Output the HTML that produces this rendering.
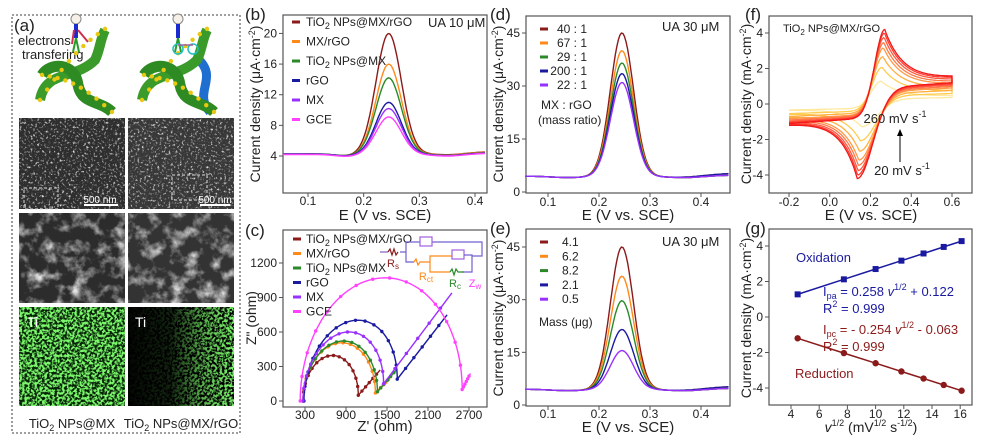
<!DOCTYPE html>
<html><head><meta charset="utf-8"><style>
html,body{margin:0;padding:0;background:#fff}
svg{display:block}
text{font-family:"Liberation Sans",Arial,sans-serif;fill:#222}
</style></head><body>
<div id="wrap"></div>
<script>
var S=[];
function A(s){S.push(s);}
function T(x,y,t,sz,anc,col){A('<text x="'+x+'" y="'+y+'" font-size="'+sz+'" text-anchor="'+(anc||'start')+'"'+(col?' style="fill:'+col+'"':'')+'>'+t+'</text>');}
function POLY(pts,col,w){var s=[];for(var i=0;i<pts.length;i++){s.push(pts[i][0].toFixed(1)+','+pts[i][1].toFixed(1));}A('<polyline fill="none" stroke="'+col+'" stroke-width="'+(w||1.3)+'" points="'+s.join(' ')+'"/>');}
function BOX(x0,y0,x1,y1){A('<rect x="'+x0+'" y="'+y0+'" width="'+(x1-x0)+'" height="'+(y1-y0)+'" fill="none" stroke="#555" stroke-width="1.2"/>');}
function AXES(o){
 BOX(o.x0,o.y0,o.x1,o.y1);
 var i,v,p;
 for(i=0;i<o.xt.length;i++){v=o.xt[i];p=o.fx(v);A('<line x1="'+p+'" y1="'+o.y1+'" x2="'+p+'" y2="'+(o.y1+4)+'" stroke="#555"/>');T(p,o.y1+(o.xo||12),o.xl?o.xl(v):v,12,'middle');}
 for(i=0;i<o.yt.length;i++){v=o.yt[i];p=o.fy(v);A('<line x1="'+(o.x0-4)+'" y1="'+p+'" x2="'+o.x0+'" y2="'+p+'" stroke="#555"/>');T(o.x0-6,p+4,v,12,'end');}
}
function GAUSS(x,c,s){var z=(x-c)/s;return Math.exp(-z*z);}
function YL(x,y,t){A('<text x="'+x+'" y="'+y+'" font-size="14" text-anchor="middle" transform="rotate(-90 '+x+' '+y+')">'+t+'</text>');}
function SUB(t){return '<tspan font-size="9" dy="3">'+t+'</tspan><tspan dy="-3">';}
var BR='#8b1a1a',OR='#ff8a1a',GR='#2a8a2a',NV='#1a1aa0',VI='#9a30ff',MG='#ff40ff';
var UA='Current density (μA·cm<tspan font-size="9" dy="-5">-2</tspan><tspan dy="5">)</tspan>';
var MA='Current density (mA·cm<tspan font-size="9" dy="-5">-2</tspan><tspan dy="5">)</tspan>';
function DPV(o,peaks,cols,base){
 for(var i=0;i<peaks.length;i++){var pts=[];for(var x=o.xa;x<=o.xb+1e-9;x+=0.003){var b0=base(x,i);pts.push([o.fx(x),o.fy(b0+(peaks[i]-b0)*GAUSS(x,0.245,0.032))]);}POLY(pts,cols[i],1.4);}
}
A('<svg width="987" height="443" viewBox="0 0 987 443" xmlns="http://www.w3.org/2000/svg"><defs>'+
'<filter id="sem" x="0" y="0" width="100%" height="100%"><feTurbulence type="fractalNoise" baseFrequency="0.45" numOctaves="3" seed="3"/><feColorMatrix type="matrix" values="0 0 0 0 1  0 0 0 0 1  0 0 0 0 1  3 0 0 0 -1.65"/></filter>'+
'<filter id="sem2" x="0" y="0" width="100%" height="100%"><feTurbulence type="fractalNoise" baseFrequency="0.07" numOctaves="4" seed="7"/><feColorMatrix type="matrix" values="0 0 0 0 1  0 0 0 0 1  0 0 0 0 1  2.2 0 0 0 -1.0"/></filter>'+
'<filter id="grn" x="0" y="0" width="100%" height="100%"><feTurbulence type="fractalNoise" baseFrequency="0.4" numOctaves="2" seed="2"/><feColorMatrix type="matrix" values="0 0 0 0 0.2  0 0 0 0 0.95  0 0 0 0 0.15  5 0 0 0 -2.0"/></filter>'+
'<linearGradient id="fade" x1="0" x2="1"><stop offset="0" stop-color="#000" stop-opacity="0.97"/><stop offset="0.4" stop-color="#000" stop-opacity="0.85"/><stop offset="0.7" stop-color="#000" stop-opacity="0.3"/><stop offset="1" stop-color="#000" stop-opacity="0"/></linearGradient></defs>');

// ===== panel a =====
try{
A('<rect x="12" y="15" width="228" height="418" fill="none" stroke="#666" stroke-width="1.3" stroke-dasharray="2,2"/>');
T(14,31,'(a)',17);
T(18,45,'electrons',13);T(22,59,'transfering',13);
function RIB(dx,blue){
 if(blue)A('<path d="M'+(dx+95)+' 58 C'+(dx+118)+' 78 '+(dx+90)+' 92 '+(dx+108)+' 112" stroke="#1f6fd0" stroke-width="9" fill="none"/>');
 A('<path d="M'+(dx+40)+' 100 C'+(dx+45)+' 70 '+(dx+75)+' 80 '+(dx+95)+' 60 C'+(dx+100)+' 50 '+(dx+100)+' 40 '+(dx+105)+' 30" stroke="#3a9a2a" stroke-width="10" fill="none"/>');
 A('<path d="M'+(dx+42)+' 75 C'+(dx+50)+' 62 '+(dx+75)+' 62 '+(dx+78)+' 85 C'+(dx+82)+' 105 '+(dx+100)+' 100 '+(dx+112)+' 112" stroke="#2e8a22" stroke-width="11" fill="none"/>');
 for(var i=0;i<10;i++){var t=i/9;A('<circle cx="'+(dx+40+t*65)+'" cy="'+(100-t*70+Math.sin(t*3)*-8)+'" r="2.2" fill="#e8c810"/>');A('<circle cx="'+(dx+42+t*70)+'" cy="'+(75+t*37-Math.sin(t*3.14)*8)+'" r="2.2" fill="#e8c810"/>');}
}
RIB(0,false);RIB(102,true);
function FIG(x){A('<circle cx="'+x+'" cy="19" r="5" fill="#f6f0e8" stroke="#888"/><line x1="'+x+'" y1="24" x2="'+x+'" y2="38" stroke="#1a2ad0" stroke-width="4"/><line x1="'+x+'" y1="38" x2="'+(x-3)+'" y2="52" stroke="#2a9a2a" stroke-width="2"/><line x1="'+x+'" y1="38" x2="'+(x+3)+'" y2="52" stroke="#2a9a2a" stroke-width="2"/>');}
FIG(76);A('<line x1="78" y1="30" x2="88" y2="42" stroke="#d03050" stroke-width="2"/><line x1="74" y1="30" x2="72" y2="44" stroke="#d03050" stroke-width="2"/>');
FIG(178);A('<circle cx="178" cy="49" r="5" fill="none" stroke="#20c0c0" stroke-width="1.5"/><circle cx="193" cy="49" r="5" fill="none" stroke="#20c0c0" stroke-width="1.5"/><line x1="178" y1="45" x2="193" y2="45" stroke="#a060a0" stroke-width="1.5"/>');
function SEM(x,y,w,h,f,bg){A('<rect x="'+x+'" y="'+y+'" width="'+w+'" height="'+h+'" fill="'+bg+'"/><rect x="'+x+'" y="'+y+'" width="'+w+'" height="'+h+'" fill="#fff" filter="url(#'+f+')"/>');}
SEM(19,118,106,91,'sem','#2e2e2e');SEM(128,118,106,91,'sem','#383838');
SEM(19,213,106,90,'sem2','#2c2c2c');SEM(128,213,106,90,'sem2','#333');
A('<rect x="19" y="307" width="106" height="99" fill="#062206"/><rect x="19" y="307" width="106" height="99" fill="#30e030" filter="url(#grn)"/>');
A('<rect x="128" y="307" width="106" height="99" fill="#000"/><rect x="128" y="307" width="106" height="99" fill="#30e030" filter="url(#grn)"/><rect x="128" y="307" width="106" height="99" fill="url(#fade)"/>');
A('<rect x="24" y="188" width="34" height="21" fill="none" stroke="#ddd" stroke-dasharray="3,2"/><rect x="172" y="175" width="35" height="25" fill="none" stroke="#ddd" stroke-dasharray="3,2"/>');
A('<line x1="84" y1="205" x2="118" y2="205" stroke="#fff" stroke-width="2"/><line x1="200" y1="205" x2="230" y2="205" stroke="#fff" stroke-width="2"/>');
T(100,203,'500 nm',10,'middle','#fff');T(215,203,'500 nm',10,'middle','#fff');
T(27,327,'Ti',14,'start','#fff');T(135,327,'Ti',14,'start','#fff');
T(72,428,'TiO'+SUB('2')+' NPs@MX</tspan>',13,'middle');
T(181,428,'TiO'+SUB('2')+' NPs@MX/rGO</tspan>',13,'middle');
}catch(err){}

var LB=[['TiO'+SUB('2')+' NPs@MX/rGO</tspan>',BR],['MX/rGO',OR],['TiO'+SUB('2')+' NPs@MX</tspan>',GR],['rGO',NV],['MX',VI],['GCE',MG]];
// ===== b =====
try{
var PB={x0:283,y0:15,x1:487,y1:193,fx:function(v){return 308+(v-0.1)*556.7;},fy:function(v){return 156-(v-4)*7.66;},xt:[0.1,0.2,0.3,0.4],yt:[4,8,12,16,20],xa:0.055,xb:0.42};
AXES(PB);
var BB=function(x,i){return 4.35+0.3*Math.max(0,x-0.36)*8-0.25*GAUSS(x,0.17,0.03)-0.2*GAUSS(x,0.35,0.04)+(i<2?0.15*(x-0.3)*3:0)-(i*0.03);};
DPV(PB,[20,16,14.2,11,10.2,9.1],[BR,OR,GR,NV,VI,MG],BB);
T(245,20,'(b)',17);YL(260,104,UA);T(385,220,'E (V vs. SCE)',15,'middle');
for(var i=0;i<LB.length;i++){var y=26+i*19.5;A('<line x1="292" y1="'+(y-4)+'" x2="300" y2="'+(y-4)+'" stroke="'+LB[i][1]+'" stroke-width="3"/>');T(306,y,LB[i][0],12);}
T(428,27,'UA  10 μM',13);
}catch(err){}
// ===== c =====
try{
var PC={x0:283,y0:230,x1:487,y1:407,xo:12,fx:function(v){return 305+(v-300)*41/600;},fy:function(v){return 401-v*138/1200;},xt:[300,900,1500,2100,2700],yt:[0,300,600,900,1200]};
AXES(PC);
T(245,236,'(c)',17);YL(256,318,'Z" (ohm)');T(385,431,"Z' (ohm)",15,'middle');
var EIS=[[270,1080,370,50,1400,270,BR],[270,1330,470,70,1560,210,OR],[275,1360,480,80,1650,280,GR],[285,1650,600,190,2380,750,NV],[270,1450,520,150,2450,940,VI],[230,2600,1020,100,2720,240,MG]];
for(var j=0;j<EIS.length;j++){
 var E=EIS[j],s0=E[0],en=E[1],h=E[2],m=E[3],fx_=E[4],fy_=E[5],col=E[6];
 var cx=(s0+en)/2,r=(en-s0)/2,P=[],k;
 for(k=0;k<=60;k++){var t=Math.PI*(1-k/60);P.push([PC.fx(cx+r*Math.cos(t)),PC.fy(h*Math.sin(t)+m*(1+Math.cos(t))/2)]);}
 P.push([PC.fx(fx_),PC.fy(fy_)]);
 POLY(P,col,1.4);
 for(k=0;k<=60;k+=4){A('<circle cx="'+P[k][0]+'" cy="'+P[k][1]+'" r="1.7" fill="'+col+'"/>');}
 for(k=1;k<6;k++){var xx=en+(fx_-en)*k/6,yy=m+(fy_-m)*k/6;A('<circle cx="'+PC.fx(xx)+'" cy="'+PC.fy(yy)+'" r="1.7" fill="'+col+'"/>');}
}
for(var i2=0;i2<LB.length;i2++){var y2=243+i2*14.5;A('<line x1="293" y1="'+(y2-4)+'" x2="301" y2="'+(y2-4)+'" stroke="'+LB[i2][1]+'" stroke-width="3"/>');T(306,y2,LB[i2][0],12);}
A('<g fill="none" stroke-width="1.2"><path d="M380 252 h8" stroke="#8060c0"/><path d="M388 252 l2 -3 l2 6 l2 -6 l2 6 l2 -3" stroke="'+BR+'"/><path d="M400 252 h6 v-10 h14 M432 242 h50 v14 h-10 M406 252 v10 h8" stroke="#7060d0"/><rect x="420" y="237" width="12" height="9" stroke="#a060e0"/><path d="M414 262 l2 -3 l2 6 l2 -3 h10 v-6 h22 M430 262 v10 h20" stroke="'+OR+'"/><rect x="452" y="250" width="12" height="9" stroke="#a060e0"/><path d="M464 255 h8 v17 h-10" stroke="#7060d0"/><path d="M450 272 l2 -3 l2 6 l2 -6 l2 3 h6" stroke="'+GR+'"/></g>');
T(393,267,'R<tspan font-size="8" dy="2">s</tspan>',11,'middle',BR);T(426,280,'R<tspan font-size="8" dy="2">ct</tspan>',11,'middle',OR);T(455,287,'R<tspan font-size="8" dy="2">c</tspan>',11,'middle',GR);T(475,287,'Z<tspan font-size="8" dy="2">w</tspan>',11,'middle',MG);
}catch(err){}
// ===== d / e =====
var DB=function(x,i){return 4.5-0.4*GAUSS(x,0.14,0.05)+(x>0.33?(x-0.33)*(i%2?6:2):0)-0.5*GAUSS(x,0.37,0.05);};
try{
var PD={x0:526,y0:16,x1:730,y1:193,xo:13,fx:function(v){return 548+(v-0.1)*510;},fy:function(v){return 192-v*53/15;},xt:[0.1,0.2,0.3,0.4],yt:[0,15,30,45],xa:0.055,xb:0.455};
AXES(PD);
DPV(PD,[45,40,36.5,33.5,31],[BR,OR,GR,NV,VI],DB);
T(490,20,'(d)',17);YL(503,104,UA);T(628,220,'E (V vs. SCE)',15,'middle');
var LD=[['40 : 1',BR],['67 : 1',OR],['29 : 1',GR],['200 : 1',NV],['22 : 1',VI]];
for(var i3=0;i3<LD.length;i3++){var y3=33+i3*14;A('<line x1="540" y1="'+(y3-4)+'" x2="548" y2="'+(y3-4)+'" stroke="'+LD[i3][1]+'" stroke-width="3"/>');T(587,y3,LD[i3][0],12,'end');}
T(541,109,'MX : rGO',12);T(538,124,'(mass ratio)',12);T(662,31,'UA  30 μM',13);
}catch(err){}
try{
var PE={x0:526,y0:229,x1:730,y1:406,xo:12,fx:function(v){return 548+(v-0.1)*510;},fy:function(v){return 405-v*158/45;},xt:[0.1,0.2,0.3,0.4],yt:[0,15,30,45],xa:0.055,xb:0.455};
AXES(PE);DPV(PE,[45,36.7,29.7,21.5,15.5],[BR,OR,GR,NV,VI],DB);
T(490,234,'(e)',17);YL(503,318,UA);T(628,432,'E (V vs. SCE)',15,'middle');
var LE=[['4.1',BR],['6.2',OR],['8.2',GR],['2.1',NV],['0.5',VI]];
for(var i4=0;i4<LE.length;i4++){var y4=246+i4*14.3;A('<line x1="540" y1="'+(y4-4)+'" x2="548" y2="'+(y4-4)+'" stroke="'+LE[i4][1]+'" stroke-width="3"/>');T(562,y4,LE[i4][0],12);}
T(539,326,'Mass (μg)',12);T(662,246,'UA  30 μM',13);
}catch(err){}
// ===== f =====
try{
var PF={x0:769,y0:16,x1:972,y1:193,xo:13,fx:function(v){return 789+(v+0.2)*203.75;},fy:function(v){return 104-v*17.75;},xt:[-0.2,0,0.2,0.4,0.6],yt:[-4,-2,0,2,4],xl:function(v){return v.toFixed(1);}};
AXES(PF);
var CVC=['#ffe9a0','#ffcc50','#ffb040','#ff9848','#ff7a48','#ff5a40','#ff3a30','#f01818'];
var PK=[1.3,2.1,2.7,3.2,3.5,3.8,4.05,4.25];
for(var q=0;q<PK.length;q++){
 var kk=PK[q]/4.25,Ep=0.245+0.025*kk,Ec=0.165-0.03*kk,pts=[],Ev,lin,D;
 for(Ev=-0.2;Ev<=0.6001;Ev+=0.005){lin=-1.1+0.8*(Ev+0.2);D=Ev<Ep?4.92*GAUSS(Ev,Ep,0.07):4.92*(0.4+0.6*Math.exp(-(Ev-Ep)/0.09));pts.push([PF.fx(Ev),PF.fy(kk*(lin+D))]);}
 for(Ev=0.6;Ev>=-0.2001;Ev-=0.005){lin=1.2-0.8*(0.6-Ev);D=Ev>Ec?5.03*GAUSS(Ev,Ec,0.11):5.03*(0.34+0.66*Math.exp(-(Ec-Ev)/0.08));pts.push([PF.fx(Ev),PF.fy(kk*(lin-D))]);}
 POLY(pts,CVC[q],1.3);
}
T(745,20,'(f)',17);YL(751,104,MA);T(871,220,'E (V vs. SCE)',15,'middle');
T(783,32,'TiO<tspan font-size="8" dy="3">2</tspan><tspan dy="-3"> NPs@MX/rGO</tspan>',11);
T(895,123,'260 mV s<tspan font-size="9" dy="-6">-1</tspan>',13,'middle');T(902,175,'20 mV s<tspan font-size="9" dy="-6">-1</tspan>',13,'middle');
A('<line x1="900" y1="162" x2="900" y2="134" stroke="#000" stroke-width="1"/><path d="M897 136 L900 129 L903 136Z" fill="#000"/>');
}catch(err){}
// ===== g =====
try{
var PG={x0:769,y0:229,x1:972,y1:405,xo:13,fx:function(v){return 791+(v-4)*14.1;},fy:function(v){return 317-v*17.75;},xt:[4,6,8,10,12,14,16],yt:[-4,-2,0,2,4]};
AXES(PG);
var XS=[4.47,7.75,10,11.83,13.4,14.83,16.1],po=[],pr=[];
for(var z=0;z<XS.length;z++){po.push([PG.fx(XS[z]),PG.fy(0.258*XS[z]+0.122)]);pr.push([PG.fx(XS[z]),PG.fy(-0.254*XS[z]-0.063)]);}
POLY(po,NV,1.5);POLY(pr,BR,1.5);
for(z=0;z<XS.length;z++){A('<rect x="'+(po[z][0]-3)+'" y="'+(po[z][1]-3)+'" width="6" height="6" fill="'+NV+'"/><circle cx="'+pr[z][0]+'" cy="'+pr[z][1]+'" r="3.2" fill="'+BR+'"/>');}
T(745,234,'(g)',17);YL(751,318,MA);
T(871,432,'<tspan font-style="italic">v</tspan><tspan font-size="9" dy="-6">1/2</tspan><tspan dy="6"> (mV</tspan><tspan font-size="9" dy="-6">1/2</tspan><tspan dy="6"> s</tspan><tspan font-size="9" dy="-6">-1/2</tspan><tspan dy="6">)</tspan>',14,'middle');
T(796,262,'Oxidation',13,'start',NV);
T(823,296,'I<tspan font-size="9" dy="3">pa</tspan><tspan dy="-3"> = 0.258 </tspan><tspan font-style="italic">v</tspan><tspan font-size="9" dy="-6">1/2</tspan><tspan dy="6"> + 0.122</tspan>',13,'start',NV);
T(823,313,'R<tspan font-size="9" dy="-6">2</tspan><tspan dy="6"> = 0.999</tspan>',13,'start',NV);
T(823,334,'I<tspan font-size="9" dy="3">pc</tspan><tspan dy="-3"> = - 0.254 </tspan><tspan font-style="italic">v</tspan><tspan font-size="9" dy="-6">1/2</tspan><tspan dy="6"> - 0.063</tspan>',13,'start',BR);
T(823,351,'R<tspan font-size="9" dy="-6">2</tspan><tspan dy="6"> = 0.999</tspan>',13,'start',BR);
T(795,378,'Reduction',13,'start',BR);
}catch(err){}
A('</svg>');
document.getElementById('wrap').innerHTML=S.join('');
</script>
</body></html>
